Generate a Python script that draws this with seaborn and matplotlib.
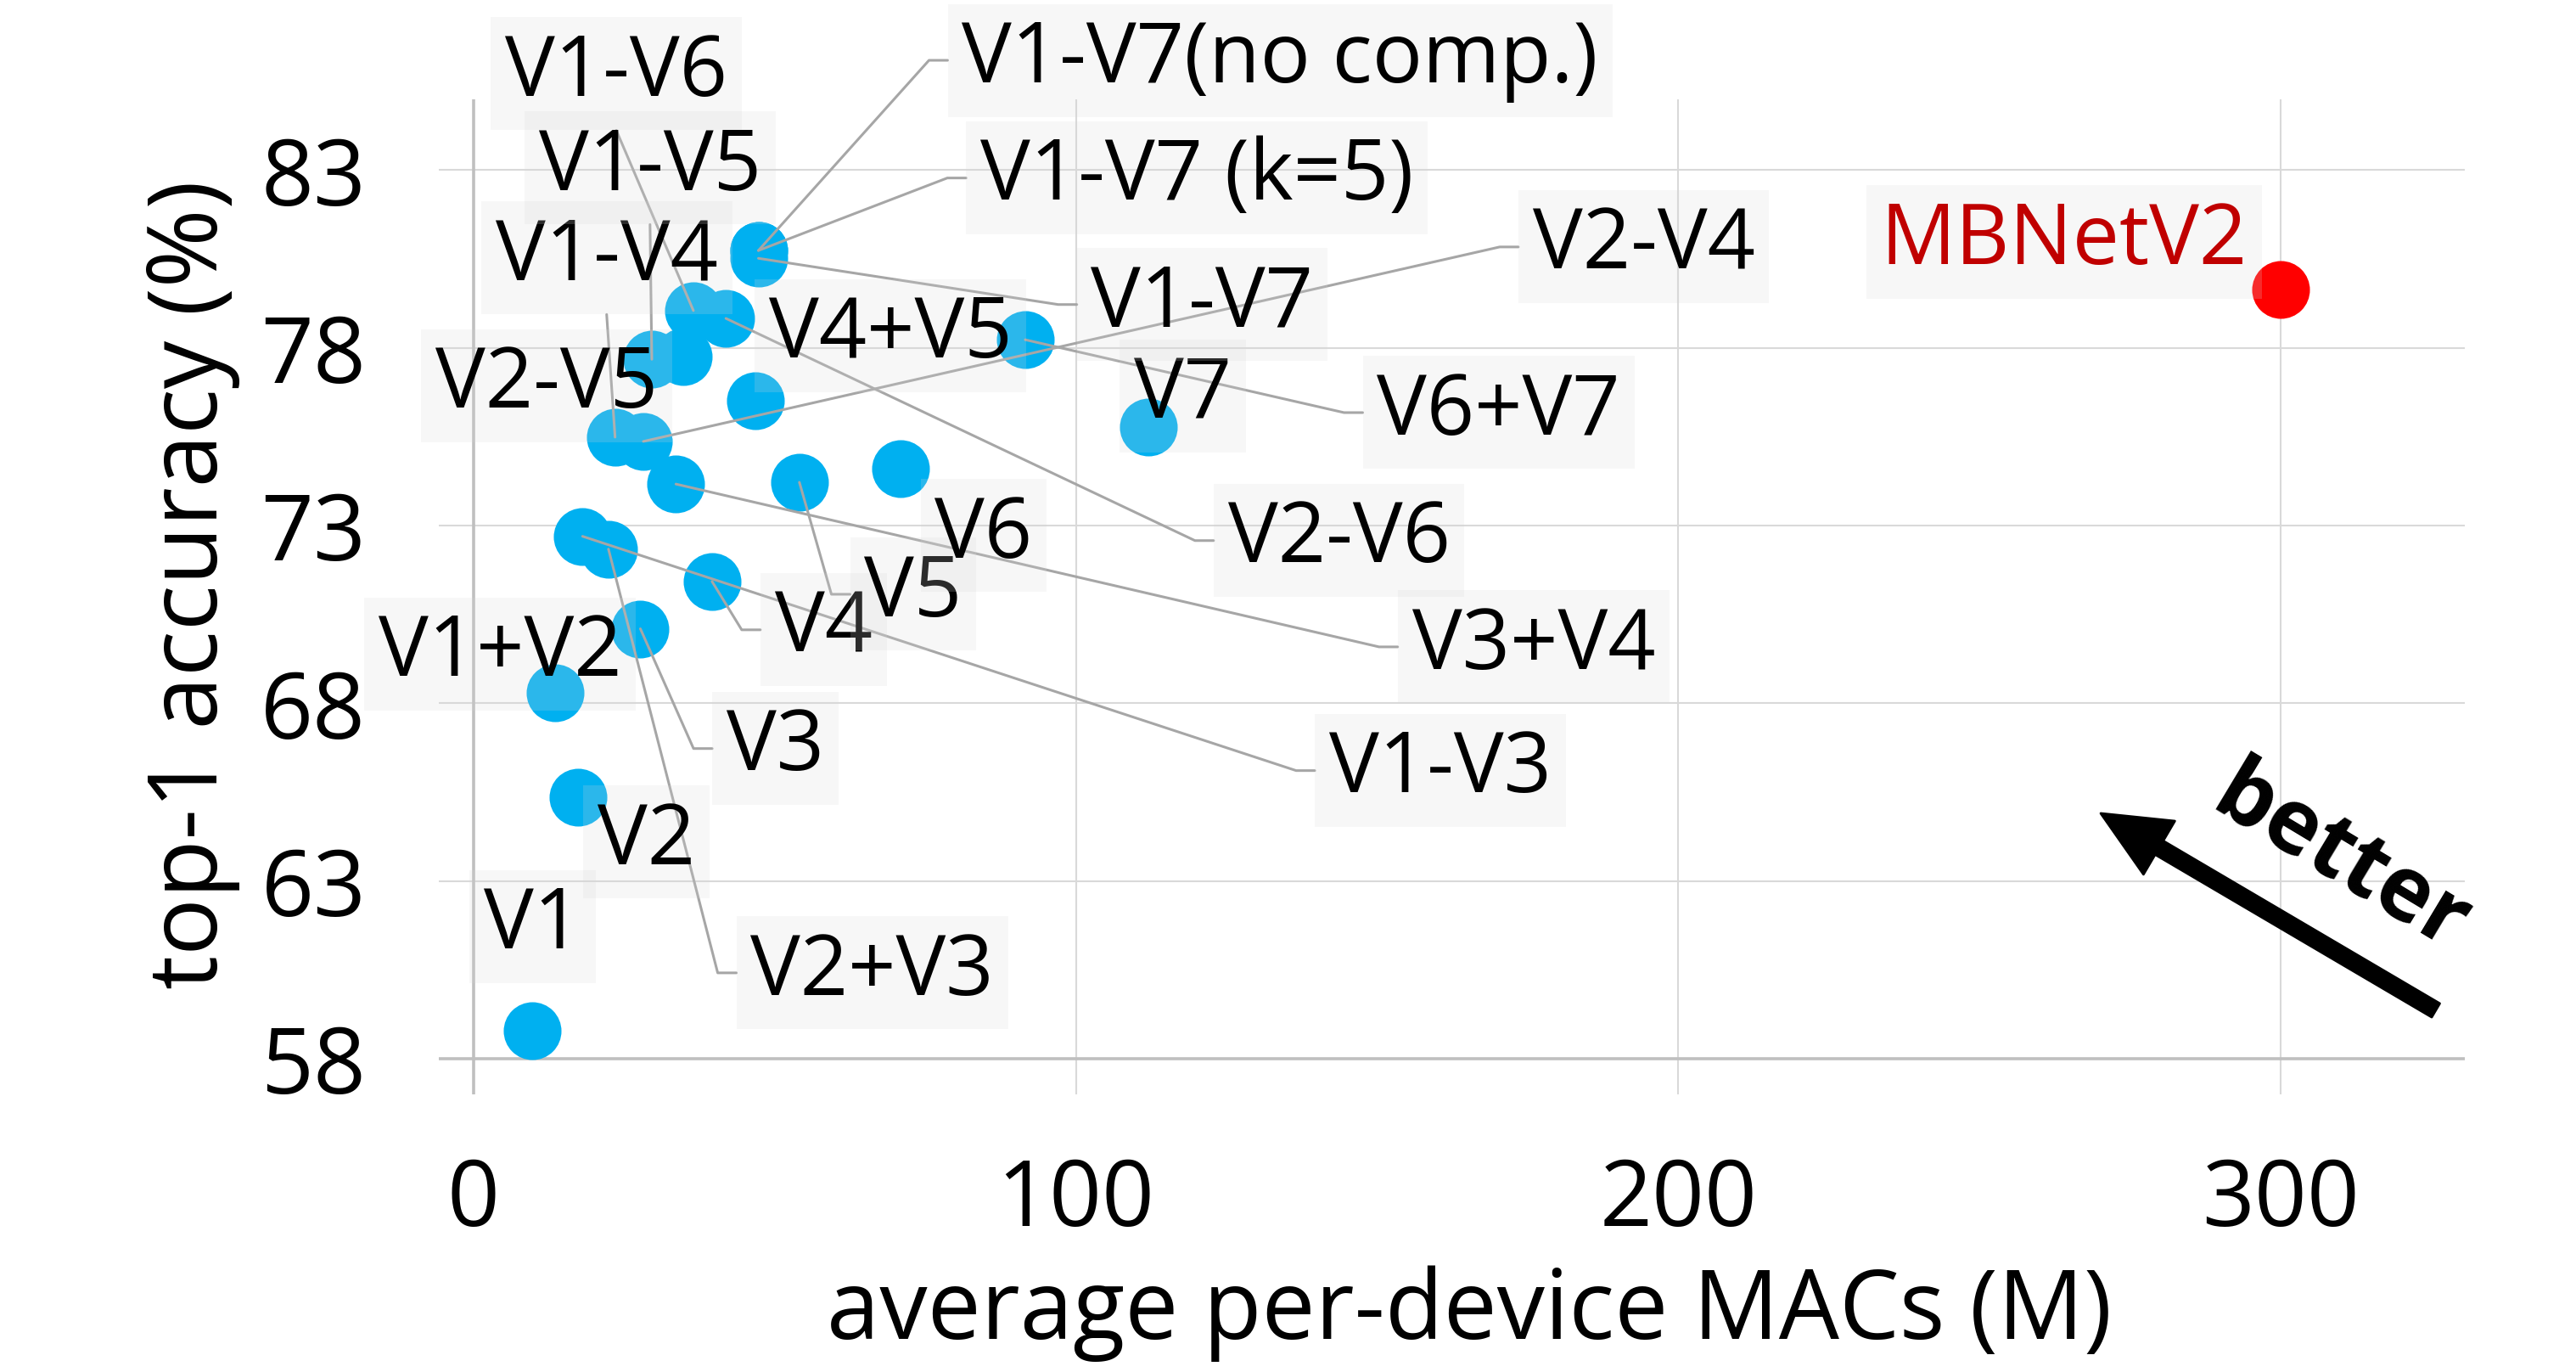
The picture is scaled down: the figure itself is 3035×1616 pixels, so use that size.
import matplotlib
matplotlib.use("Agg")
import matplotlib.pyplot as plt
import seaborn as sns
import pandas as pd

# values
names = ["V1", "V2", "V3", "V4", "V5", "V6", "V7",
         "V1+V2", "V2+V3", "V3+V4", "V4+V5", "V6+V7",
         "V1-V3", "V1-V4", "V2-V4", "V2-V5", "V1-V5", "V1-V6", "V2-V6",
         "V1-V7(no comp.)", "V1-V7 (k=5)", "V1-V7"]
macs = [9.8, 17.3, 27.7, 39.6, 54.1, 70.9, 112.1,
        13.6, 22.4, 33.6, 46.8, 91.6,
        18.1, 23.5, 28.2, 34.8, 29.6, 36.5, 41.9,
        47.3, 47.3, 47.3]
acc = [58.79, 65.36, 70.10, 71.43, 74.22, 74.61, 75.77,
       68.31, 72.34, 74.17, 76.52, 78.23,
       72.70, 75.49, 75.37, 77.76, 77.68, 79.05, 78.83,
       80.74, 80.74, 80.52]

base_name = "MBNetV2"
base_macs = [300]
base_acc = [79.65]

x_ticks = [0, 100, 200, 300]
y_ticks = [58, 63, 68, 73, 78, 83]

# where the data labels sit (data coords) and where the leader leaves the box
label_pos = {
    "V1": (9.8, 61.73, None),
    "V2": (28.7, 64.10, None),
    "V1+V2": (4.4, 69.38, None),
    "V3": (50.1, 66.73, "left"),
    "V4": (58.1, 70.07, "left"),
    "V5": (73.0, 71.07, "left"),
    "V6": (84.7, 72.72, None),
    "V7": (117.8, 76.65, None),
    "V1-V3": (160.5, 66.11, "left"),
    "V2+V3": (66.2, 60.42, "left"),
    "V3+V4": (176.0, 69.59, "left"),
    "V4+V5": (69.2, 78.35, None),
    "V6+V7": (170.2, 76.18, "left"),
    "V1-V4": (22.1, 80.53, "bottom"),
    "V2-V4": (194.3, 80.84, "left"),
    "V2-V5": (12.1, 76.94, None),
    "V1-V5": (29.3, 83.06, "bottom"),
    "V1-V6": (23.7, 85.71, "bottom"),
    "V2-V6": (143.7, 72.58, "left"),
    "V1-V7(no comp.)": (133.9, 86.09, "left"),
    "V1-V7 (k=5)": (120.1, 82.78, "left"),
    "V1-V7": (121.0, 79.22, "left"),
}
base_label_pos = (264.1, 80.98)

df = pd.DataFrame({"name": names, "macs": macs, "acc": acc})

sns.set_theme(style="white")
plt.rcParams['font.family'] = ['Open Sans', 'DejaVu Sans']
plt.rcParams['text.color'] = 'black'
plt.rcParams['axes.labelcolor'] = 'black'

fig, ax = plt.subplots(figsize=(15.175, 8.08), dpi=200)
fig.subplots_adjust(left=0.1705, right=0.9568, bottom=0.2023, top=0.9278)

sns.scatterplot(data=df, x="macs", y="acc", color="#00b0f0", s=600,
                linewidth=0, ax=ax, zorder=3)
ax.scatter(base_macs, base_acc, color="#ff0000", s=600, linewidth=0, zorder=3)

ax.set_xlim(-5.7, 330.6)
ax.set_ylim(57.0, 85.0)
ax.set_xticks(x_ticks)
ax.set_yticks(y_ticks)
ax.grid(True, color="#d9d9d9", lw=0.75)
ax.set_axisbelow(True)
ax.axvline(0, color="#bfbfbf", lw=1.3, zorder=1)
ax.axhline(58, color="#bfbfbf", lw=1.3, zorder=1)
for s in ax.spines.values():
    s.set_visible(False)

ax.tick_params(axis="both", length=0, labelsize=39, colors="black")
ax.tick_params(axis="y", pad=31)
ax.tick_params(axis="x", pad=26)

ax.set_xlabel("average per-device MACs (M)", fontsize=40.5, color="black")
ax.set_ylabel("top-1 accuracy (%)", fontsize=40.5, color="black")
ax.xaxis.label.set_va("top")
ax.xaxis.set_label_coords(0.5085, -0.1715)
ax.yaxis.set_label_coords(-0.0983, 0.512)

box = dict(boxstyle="square,pad=0.17", fc=(0.847, 0.847, 0.847, 0.2), ec="none")
texts = {}
for n in names:
    lx, ly, _ = label_pos[n]
    texts[n] = ax.text(lx, ly, n, fontsize=35.5, color="black", ha="center",
                       va="center", bbox=box, zorder=5, clip_on=False)
ax.text(base_label_pos[0], base_label_pos[1], base_name, fontsize=35.5,
        color="#c00000", ha="center", va="center", bbox=box, zorder=5)

# leader lines, excel style: short stub off the box then straight to the point
fig.canvas.draw()
renderer = fig.canvas.get_renderer()
inv = ax.transData.inverted()
stub = 22
for n, mx, my in zip(names, macs, acc):
    side = label_pos[n][2]
    if side is None:
        continue
    bb = texts[n].get_bbox_patch().get_window_extent(renderer)
    px, py = ax.transData.transform((mx, my))
    if side == "left":
        pts = [(bb.x0, (bb.y0 + bb.y1) / 2), (bb.x0 - stub, (bb.y0 + bb.y1) / 2), (px, py)]
    else:
        pts = [((bb.x0 + bb.x1) / 2, bb.y0), (px, py)]
    d = inv.transform(pts)
    ax.plot(d[:, 0], d[:, 1], color="#a6a6a6", lw=1.1, zorder=4, clip_on=False)

# "better" arrow
ax.annotate("", xy=(0.8203, 0.2824), xytext=(0.9857, 0.0845),
            xycoords="axes fraction", textcoords="axes fraction",
            arrowprops=dict(arrowstyle="simple,head_length=1.15,head_width=1.05,tail_width=0.27",
                            color="black", mutation_scale=25, shrinkA=0, shrinkB=0))
ax.text(0.9385, 0.2346, "better", transform=ax.transAxes, rotation=-31,
        fontsize=38, fontweight="bold", color="black", ha="center", va="center",
        rotation_mode="anchor")

fig.savefig("out.png", dpi=200)
